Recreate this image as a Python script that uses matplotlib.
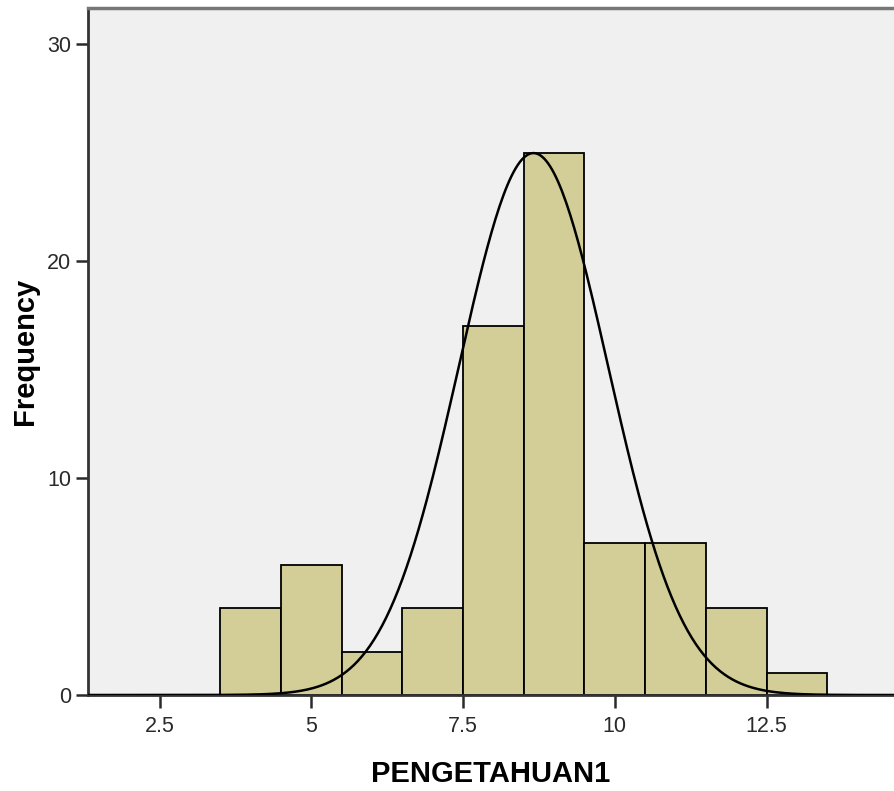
import numpy as np
import matplotlib
matplotlib.use("Agg")
import matplotlib.pyplot as plt

# histogram bins (width 1) and their frequencies
bin_centers = [4, 5, 6, 7, 8, 9, 10, 11, 12, 13]
counts = [4, 6, 2, 4, 17, 25, 7, 7, 4, 1]

# fitted normal curve parameters
curve_mean = 8.66
curve_sd = 1.23
n_total = sum(counts)

x_ticks = [2.5, 5, 7.5, 10, 12.5]
x_tick_labels = ["2.5", "5", "7.5", "10", "12.5"]
y_ticks = [0, 10, 20, 30]

plt.rcParams['font.family'] = ['Liberation Sans', 'DejaVu Sans']

fig = plt.figure(figsize=(8.94, 7.91), dpi=100)
ax = fig.add_axes([88 / 894, 1 - 695 / 791, 806 / 894, 687 / 791])
ax.set_facecolor('#f0f0f0')

ax.bar(bin_centers, counts, width=1.0, color='#d3ce97',
       edgecolor='black', linewidth=1.3, zorder=2)

xs = np.linspace(1.3, 14.6, 400)
ys = n_total * 1.0 / (curve_sd * np.sqrt(2 * np.pi)) * np.exp(-0.5 * ((xs - curve_mean) / curve_sd) ** 2)
ax.plot(xs, ys, color='black', linewidth=1.8, zorder=3)

ax.set_xlim(1.32, 14.6)
ax.set_ylim(0, 31.66)
ax.set_xticks(x_ticks)
ax.set_xticklabels(x_tick_labels)
ax.set_yticks(y_ticks)

ax.tick_params(axis='both', length=9, width=1.8, colors='#2a2a2a',
               labelsize=15.5, pad=3)
ax.tick_params(axis='x', pad=6)

for side in ['left', 'bottom']:
    ax.spines[side].set_linewidth(2)
    ax.spines[side].set_color('#333333')
ax.spines['top'].set_linewidth(2.5)
ax.spines['top'].set_color('#777777')
ax.spines['right'].set_visible(False)

ax.set_xlabel('PENGETAHUAN1', fontsize=21, fontweight='bold', labelpad=17)
ax.set_ylabel('Frequency', fontsize=21, fontweight='bold', labelpad=6)

fig.savefig('out.png', dpi=100)
